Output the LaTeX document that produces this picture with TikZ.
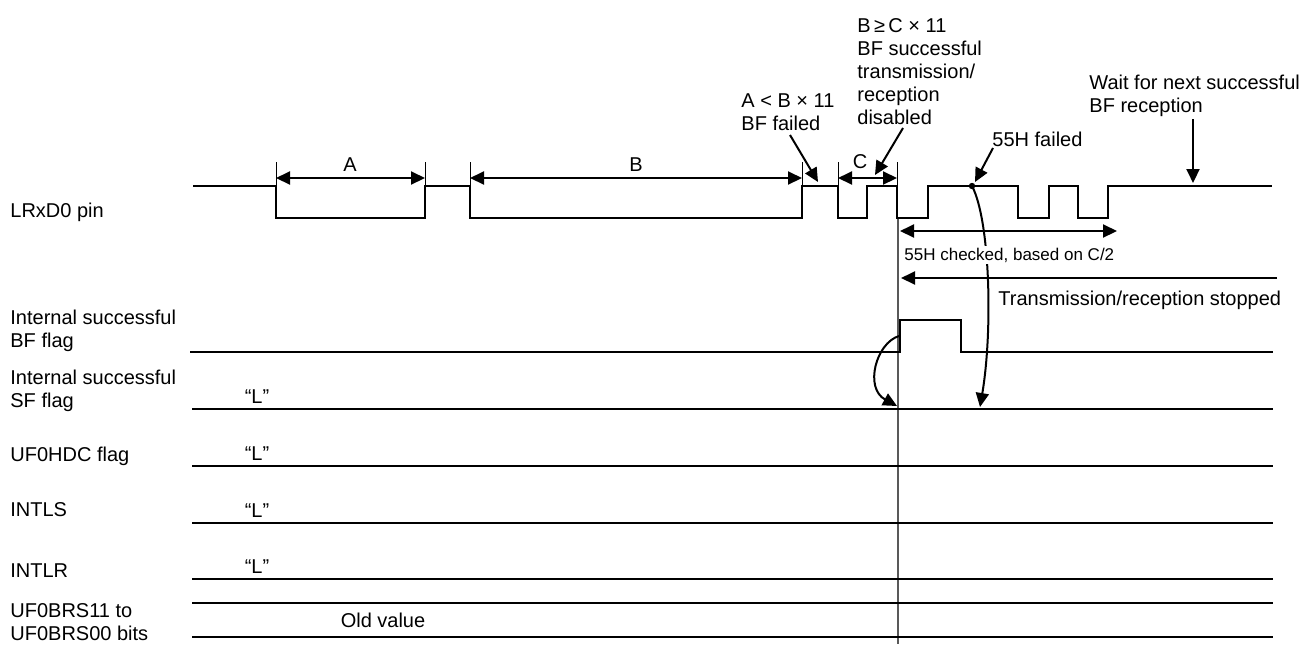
\documentclass[tikz,border=0pt]{standalone}
\usepackage{fontspec}
\setmainfont{Liberation Sans}
\usetikzlibrary{arrows.meta}

\tikzset{
  sig/.style={line width=1pt},
  tickln/.style={line width=0.5pt},
  dimarr/.style={line width=1pt,{Triangle[length=7pt,width=6.5pt]}-{Triangle[length=7pt,width=6.5pt]}},
  notearr/.style={line width=1pt,-{Triangle[length=7pt,width=6.5pt]}},
  txt/.style={inner sep=0pt,align=left,font=\fontsize{10}{11.5}\selectfont},
}

\begin{document}
\begin{tikzpicture}[x=0.5pt,y=-0.5pt]
	\useasboundingbox (0,0) rectangle (1304,644);
	
	% signal names
	\node[txt,anchor=west] (nPin) at (10,212) {LRxD0 pin};
	\node[txt,anchor=north west] (nBF) at (10,310) {Internal successful\\BF flag};
	\node[txt,anchor=north west] (nSF) at (10,370) {Internal successful\\SF flag};
	\node[txt,anchor=west] (nHDC) at (10,456) {UF0HDC flag};
	\node[txt,anchor=west] (nLS) at (10,510) {INTLS};
	\node[txt,anchor=west] (nLR) at (10,571) {INTLR};
	\node[txt,anchor=north west] (nBRS) at (10,603) {UF0BRS11 to\\UF0BRS00 bits};
	
	% time reference
	\draw[gray!70!black,line width=0.8pt] (898,218) -- (898,644);
	
	% LRxD0 pin
	\draw[sig] (193,186) -| (276,218) -| (425,186) -| (470,218) -| (802,186) -| (838,218) -| (867,186) -| (897,218) -| (928,186) -| (1018,218) -| (1049,186) -| (1078,218) -| (1108,186) -- (1272,186);
	
	\foreach \x in {276,425,470,802,838,897}
	\draw[tickln] (\x,162) -- (\x,186);
	
	\draw[dimarr] (276,178) -- (425,178);
	\draw[dimarr] (470,178) -- (802,178);
	\draw[dimarr] (838,178) -- (897,178);
	\node[txt] (wA) at (350,165) {A};
	\node[txt] (wB) at (636,165) {B};
	\node[txt] (wC) at (860,162) {C};
	
	% notes
	\node[txt,anchor=north west] (nFail) at (741,93) {A < B × 11\\BF failed};
	\draw[notearr] (790,135) -- (818,182);
	
	\node[txt,anchor=north west] (nOK) at (857,18) {B\,≥\,C × 11\\BF successful\\transmission/\\reception\\disabled};
	\draw[notearr] (903,128) -- (875,175);
	
	\node[txt,anchor=north west] (nWait) at (1089,75) {Wait for next successful\\BF reception};
	\draw[notearr] (1193,119) -- (1193,183);
	
	\node[txt,anchor=west] (n55F) at (992,139) {55H failed};
	\draw[notearr] (993,148) -- (975,182);
	\fill (972,186) circle (1.6pt);
	\draw[notearr] (972,186) .. controls (990,220) and (993,330) .. (980,407);
	
	\draw[dimarr] (900,231) -- (1117,231);
	\node[txt,anchor=west,font=\fontsize{8.5}{10}\selectfont,fill=white,inner sep=1pt] (nChk) at (902,255) {55H checked, based on C/2};
	
	\draw[notearr] (1277,278) -- (901,278);
	\node[txt,anchor=west] (nStop) at (998,300) {Transmission/reception stopped};
	
	% BF flag
	\draw[sig] (190,352) -| (900,320) -| (961,352) -- (1273,352);
	\draw[notearr] (899,336) .. controls (876,343) and (864,388) .. (897,406);
	
	% flags staying low
	\foreach \y in {409,466,523,579} {
		\draw[sig] (192,\y) -- (1273,\y);
		\node[txt] (L\y) at (257,\y-12) {“L”};
	}
	
	% UF0BRS bits
	\draw[sig] (192,603) -- (1273,603);
	\draw[sig] (192,637) -- (1273,637);
	\node[txt] (nOld) at (383,620) {Old value};
\end{tikzpicture}
\end{document}
